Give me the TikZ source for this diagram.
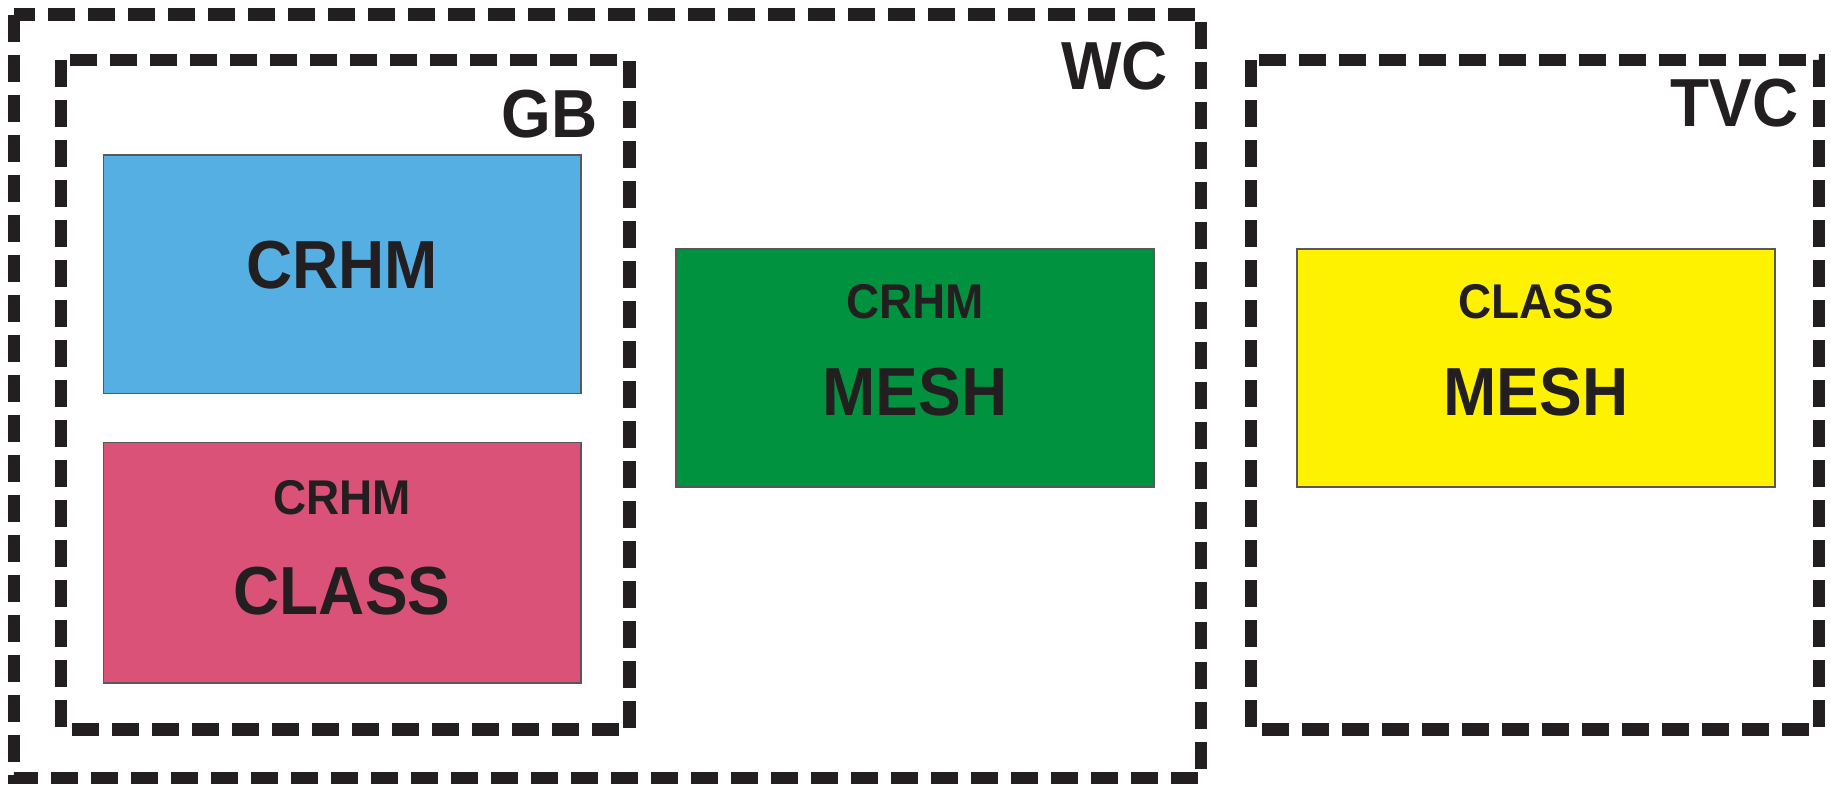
\documentclass[tikz,border=0pt]{standalone}
\usepackage{fontspec}
\setmainfont{Liberation Sans}[FakeStretch=0.94]
\definecolor{inkblack}{HTML}{231F20}
\definecolor{crhmblue}{HTML}{56AFE2}
\definecolor{classpink}{HTML}{DB5278}
\definecolor{meshgreen}{HTML}{00923F}
\definecolor{meshyellow}{HTML}{FFF200}
\tikzset{
  zone/.style={draw=inkblack, line width=6.15pt, dash pattern=on 13.5pt off 6.5pt},
  model/.style={draw=inkblack!75, line width=0.6pt},
  bigtext/.style={font=\fontsize{34}{34}\selectfont\bfseries, text=inkblack, inner sep=0pt, anchor=base},
  smalltext/.style={font=\fontsize{24.4}{24.4}\selectfont\bfseries, text=inkblack, inner sep=0pt, anchor=base},
  zonetext/.style={font=\fontsize{34}{34}\selectfont\bfseries, text=inkblack, inner sep=0pt, anchor=base east}
}
\begin{document}
\begin{tikzpicture}[x=0.5pt, y=-0.5pt]
    \useasboundingbox (0,0) rectangle (1831,784);

    % Domains
    \draw[zone] (14,14.5) rectangle (1201,778);
    \draw[zone] (61,60) rectangle (629.5,729.5);
    \draw[zone] (1251,60) rectangle (1819,729.5);
    \node[zonetext] (wc) at (1168,89) {WC};
    \node[zonetext] (gb) at (598,137) {GB};
    \node[zonetext] (tvc) at (1799,126) {TVC};

    % Model couplings
    \draw[model, fill=crhmblue] (103.5,155) rectangle (581,393.5);
    \draw[model, fill=classpink] (103.5,442.5) rectangle (581,683);
    \draw[model, fill=meshgreen] (676,249) rectangle (1154,487);
    \draw[model, fill=meshyellow] (1297,249) rectangle (1775,487);

    % Labels
    \node[bigtext] (gbcrhm) at (342,288) {CRHM};
    \node[smalltext] (pinkcrhm) at (342,514) {CRHM};
    \node[bigtext] (pinkclass) at (342,614) {CLASS};
    \node[smalltext] (wccrhm) at (915,318) {CRHM};
    \node[bigtext] (wcmesh) at (915,415) {MESH};
    \node[smalltext] (tvcclass) at (1536,318) {CLASS};
    \node[bigtext] (tvcmesh) at (1536,415) {MESH};
\end{tikzpicture}
\end{document}
